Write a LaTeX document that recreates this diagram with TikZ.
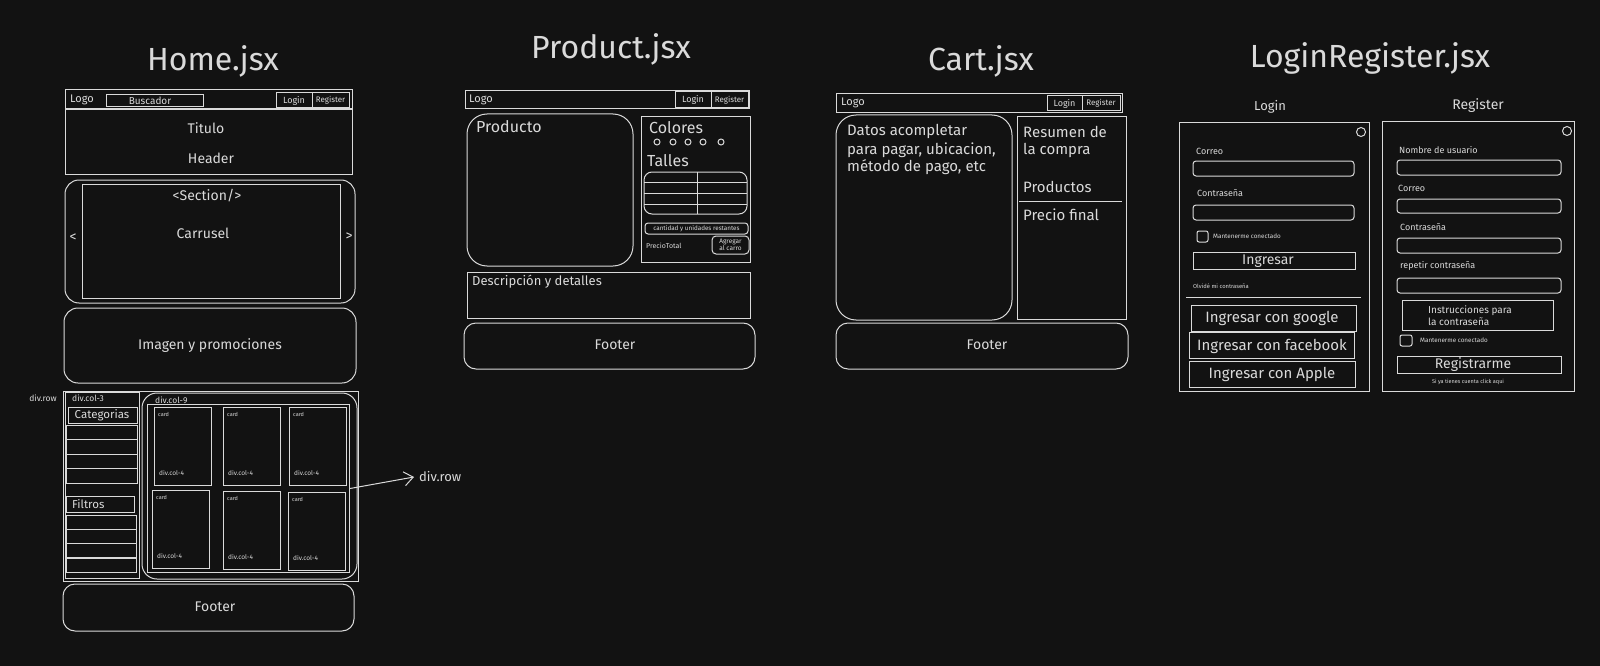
\documentclass[tikz,border=0pt]{standalone}
\usepackage{fontspec}
\setmainfont{Fira Sans}
\usetikzlibrary{arrows.meta}
\definecolor{bg}{HTML}{121212}
\definecolor{fg}{HTML}{DADADA}
\newcommand\myfs[1]{\fontsize{#1}{#1}\selectfont}
\begin{document}
\begin{tikzpicture}[x=1pt,y=-1pt,
  ln/.style={draw=fg, line width=1pt},
  rb/.style={ln, rounded corners=14pt},
  tx/.style={text=fg, inner sep=0pt},
  txw/.style={tx, anchor=west},
  ttl/.style={tx, font=\myfs{32}},
  cardbox/.style={ln}]
\fill[bg] (0,0) rectangle (1600,666);
\useasboundingbox (0,0) rectangle (1600,666);

% ================= HOME =================
\node[ttl] (tHome) at (213,61) {Home.jsx};
\draw[ln] (65,90) rectangle (352,109);
\node[txw, font=\myfs{11}] (hLogo) at (70,100) {Logo};
\draw[ln] (106,95) rectangle (203,107);
\node[tx, font=\myfs{10}] (hBusc) at (150,101) {Buscador};
\draw[ln] (276,93) rectangle (312,108);
\node[tx, font=\myfs{9}] (hLogin) at (294,100.5) {Login};
\draw[ln] (312,93) rectangle (349,108);
\node[tx, font=\myfs{8}] (hReg) at (330.5,100.5) {Register};
\draw[ln] (65,110) rectangle (352,174);
\node[tx, font=\myfs{14}] (hTit) at (206,128) {Titulo};
\node[tx, font=\myfs{14}] (hHead) at (211,158) {Header};
\draw[rb] (65,180) rectangle (355,303);
\draw[ln] (82,184) rectangle (340,298);
\node[tx, font=\myfs{14}] (hSec) at (207,196) {<Section/>};
\node[tx, font=\myfs{14}] (hCar) at (203,233) {Carrusel};
\node[tx, font=\myfs{14}] (hPrev) at (73,238) {<};
\node[tx, font=\myfs{14}] (hNext) at (349,237) {>};
\draw[rb] (64,308) rectangle (356,383);
\node[tx, font=\myfs{14}] (hImg) at (210,346) {Imagen y promociones};
% div.row
\draw[ln] (63,391) rectangle (358,581);
\node[tx, font=\myfs{8.5}] (hRowL) at (43,398) {div.row};
\draw[ln] (65,392) rectangle (139,578);
\node[txw, font=\myfs{8.5}] (hCol3) at (72,398) {div.col-3};
\draw[ln] (68,407) rectangle (137,423);
\node[tx, font=\myfs{11.5}] (hCat) at (102,415) {Categorias};
\foreach \yy in {425,439.5,454,468.5} \draw[ln] (66,\yy) rectangle (137,\yy+14.5);
\draw[ln] (66,496) rectangle (134,512);
\node[txw, font=\myfs{11.5}] (hFil) at (72,504) {Filtros};
\foreach \yy in {515,529,543.5,558} \draw[ln] (66,\yy) rectangle (136,\yy+14);
\draw[ln, rounded corners=15pt] (142,393) rectangle (357,579);
\node[txw, font=\myfs{8.5}] (hCol9) at (155,400) {div.col-9};
\node[ln, inner sep=0pt, minimum width=202pt, minimum height=168pt, anchor=north west] (hrow) at (147,404) {};
\foreach \cx/\cy/\nm in {154/407/a,223/407/b,289/407/c,152/490/d,223/491/e,288/492/f}{
  \draw[cardbox] (\cx,\cy) rectangle (\cx+57,\cy+78);
  \node[txw, font=\myfs{5.5}] (card\nm) at (\cx+4,\cy+7) {card};
  \node[txw, font=\myfs{6.5}] (col\nm) at (\cx+5,\cy+66) {div.col-4};
}
\node[txw, font=\myfs{13}] (rowlbl) at (419,477) {div.row};
\draw[ln, -{Straight Barb[length=9pt,width=14pt]}] (hrow.east) -- ([xshift=-5pt]rowlbl.west);
\draw[ln, rounded corners=12pt] (63,584) rectangle (354,631);
\node[tx, font=\myfs{14}] (hFoot) at (215,607) {Footer};

% ================= PRODUCT =================
\node[ttl] (tProd) at (611,49) {Product.jsx};
\draw[ln] (465,91) rectangle (749,109);
\node[txw, font=\myfs{11}] (pLogo) at (469,100) {Logo};
\draw[ln] (675,92) rectangle (711,108);
\node[tx, font=\myfs{9}] (pLogin) at (693,100) {Login};
\draw[ln] (711,92) rectangle (748,108);
\node[tx, font=\myfs{8}] (pReg) at (729.5,100) {Register};
\draw[ln, rounded corners=20pt] (467,114) rectangle (633,266);
\node[txw, font=\myfs{16}] (pProd) at (476,127) {Producto};
\draw[ln] (641,117) rectangle (750,262);
\node[txw, font=\myfs{16}] (pCol) at (649,128) {Colores};
\foreach \cx in {657,673,688,703,721} \draw[ln] (\cx,142) circle (3);
\node[txw, font=\myfs{16}] (pTal) at (647,161) {Talles};
\draw[ln, rounded corners=8pt] (644,172) rectangle (747,214);
\foreach \yy in {182,193,204} \draw[ln] (644,\yy) -- (747,\yy);
\draw[ln] (697,172) -- (697,214);
\draw[ln, rounded corners=3pt] (645,223) rectangle (748,234);
\node[tx, font=\myfs{6.3}] (pCant) at (696.5,228.5) {cantidad y unidades restantes};
\node[txw, font=\myfs{7}] (pPre) at (646,246) {PrecioTotal};
\draw[ln, rounded corners=4pt] (712,236) rectangle (749,254);
\node[tx, font=\myfs{6.5}, align=center] (pAgr) at (730.5,245) {Agregar\\al carro};
\draw[ln] (467,272) rectangle (750,318);
\node[txw, font=\myfs{13}] (pDesc) at (472,282) {Descripción y detalles};
\draw[ln, rounded corners=12pt] (464,323) rectangle (755,369);
\node[tx, font=\myfs{14}] (pFoot) at (615,345) {Footer};

% ================= CART =================
\node[ttl] (tCart) at (981,61) {Cart.jsx};
\draw[ln] (836,94) rectangle (1122,113);
\node[txw, font=\myfs{11}] (cLogo) at (841,103) {Logo};
\draw[ln] (1047,96) rectangle (1082,111);
\node[tx, font=\myfs{9}] (cLogin) at (1064.5,103.5) {Login};
\draw[ln] (1082,96) rectangle (1120,111);
\node[tx, font=\myfs{8}] (cReg) at (1101,103.5) {Register};
\draw[ln, rounded corners=20pt] (836,115) rectangle (1012,320);
\node[txw, font=\myfs{15}] (cD1) at (847,131) {Datos acompletar};
\node[txw, font=\myfs{15}] (cD2) at (847,150) {para pagar, ubicacion,};
\node[txw, font=\myfs{15}] (cD3) at (847,167) {método de pago, etc};
\draw[ln] (1017,117) rectangle (1126,319);
\node[txw, font=\myfs{15}] (cR1) at (1023,132) {Resumen de};
\node[txw, font=\myfs{15}] (cR2) at (1023,150) {la compra};
\node[txw, font=\myfs{15}] (cR3) at (1023,187) {Productos};
\draw[ln] (1019,201) -- (1122,201);
\node[txw, font=\myfs{15}] (cR4) at (1023,215) {Precio final};
\draw[ln, rounded corners=12pt] (836,323) rectangle (1128,369);
\node[tx, font=\myfs{14}] (cFoot) at (987,345) {Footer};

% ================= LOGIN / REGISTER =================
\node[ttl] (tLR) at (1370,58) {LoginRegister.jsx};
\node[tx, font=\myfs{13}] (lTit) at (1270,107) {Login};
\node[tx, font=\myfs{14}] (rTit) at (1478,106) {Register};
% login
\draw[ln] (1179,123) rectangle (1369,391);
\draw[ln] (1361,132) circle (4.5);
\node[txw, font=\myfs{9}] (lCor) at (1196,151) {Correo};
\draw[ln, rounded corners=3pt] (1193,161) rectangle (1354,176);
\node[txw, font=\myfs{9}] (lCon) at (1197,193) {Contraseña};
\draw[ln, rounded corners=3pt] (1193,205) rectangle (1354,220);
\draw[ln, rounded corners=2pt] (1197,231) rectangle (1208,242);
\node[txw, font=\myfs{6.3}] (lMan) at (1213,236.5) {Mantenerme conectado};
\draw[ln] (1193,252) rectangle (1355,269);
\node[tx, font=\myfs{14}] (lIng) at (1268,261) {Ingresar};
\node[txw, font=\myfs{5.8}] (lOlv) at (1193,286) {Olvidé mi contraseña};
\draw[ln] (1186,297) -- (1361,297);
\draw[ln] (1191,305) rectangle (1356,331);
\node[tx, font=\myfs{15}] (lG) at (1272,318) {Ingresar con google};
\draw[ln] (1189,332) rectangle (1354,358);
\node[tx, font=\myfs{15}] (lF) at (1272,346) {Ingresar con facebook};
\draw[ln] (1189,361) rectangle (1355,387);
\node[tx, font=\myfs{15}] (lA) at (1272,374) {Ingresar con Apple};
% register
\draw[ln] (1382,122) rectangle (1574,391);
\draw[ln] (1567,131) circle (4.5);
\node[txw, font=\myfs{9}] (rNom) at (1399,150) {Nombre de usuario};
\draw[ln, rounded corners=3pt] (1397,160) rectangle (1561,175);
\node[txw, font=\myfs{9}] (rCor) at (1398,188) {Correo};
\draw[ln, rounded corners=3pt] (1397,199) rectangle (1561,213);
\node[txw, font=\myfs{9}] (rCon) at (1400,227) {Contraseña};
\draw[ln, rounded corners=3pt] (1397,238) rectangle (1561,253);
\node[txw, font=\myfs{9}] (rRep) at (1400,266) {repetir contraseña};
\draw[ln, rounded corners=3pt] (1397,278) rectangle (1561,293);
\draw[ln] (1402,300) rectangle (1553,330);
\node[txw, font=\myfs{10}] (rIns1) at (1428,311) {Instrucciones para};
\node[txw, font=\myfs{10}] (rIns2) at (1428,322) {la contraseña};
\draw[ln, rounded corners=2pt] (1400,335) rectangle (1412,346);
\node[txw, font=\myfs{6.3}] (rMan) at (1420,340) {Mantenerme conectado};
\draw[ln] (1397,356) rectangle (1561,373);
\node[tx, font=\myfs{14}] (rBtn) at (1473,364.5) {Registrarme};
\node[tx, font=\myfs{5.5}] (rSi) at (1468,382) {Si ya tienes cuenta click aqui};
\end{tikzpicture}
\end{document}
